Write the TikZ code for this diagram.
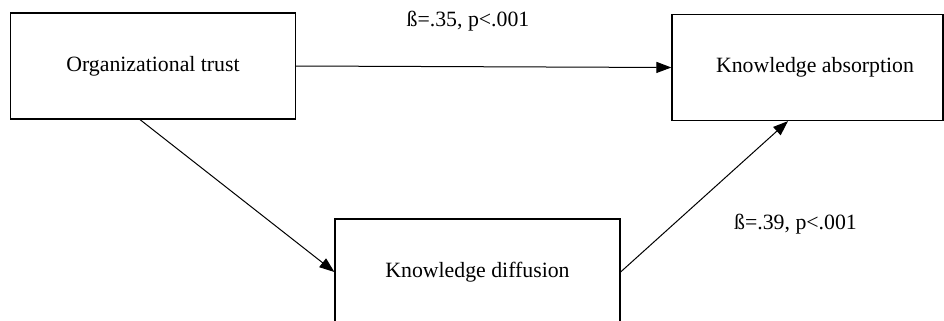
\documentclass[tikz,border=0pt]{standalone}
\usepackage{fontspec}
\setmainfont{Liberation Serif}
\usetikzlibrary{arrows.meta, calc}

\begin{document}
\begin{tikzpicture}[
    x=0.5pt, y=-0.5pt,
    vbox/.style={rectangle, draw=black, line width=0.6pt, minimum width=142.5pt, minimum height=53pt, inner sep=0pt, font=\fontsize{10.9}{13}\selectfont},
    coef/.style={inner sep=0pt, font=\fontsize{10.9}{13}\selectfont},
    link/.style={-{Triangle[length=7.5pt, width=5.5pt]}, line width=0.5pt}
]
    \useasboundingbox (0,0) rectangle (944,321);
    \clip (0,0) rectangle (944,321);
    \node[vbox] (trust)   at (153, 66)    {Organizational trust};
    \node[vbox, minimum width=135.5pt] (absorb) at (807.5, 67.5) {\hspace*{7.5pt}Knowledge absorption};
    \node[vbox] (diffuse) at (477.5, 272) {Knowledge diffusion};
    \draw[link] (trust.east) -- (absorb.west);
    \draw[link] ($(trust.south)+(-13,0)$) -- (diffuse.west);
    \draw[link] (diffuse.east) -- ($(absorb.south)+(-19.5,0)$);
    \node[coef] (coefdirect)   at (468, 21.5) {ß=.35, p<.001};
    \node[coef] (coefindirect) at (795.5, 224) {ß=.39, p<.001};
\end{tikzpicture}
\end{document}
